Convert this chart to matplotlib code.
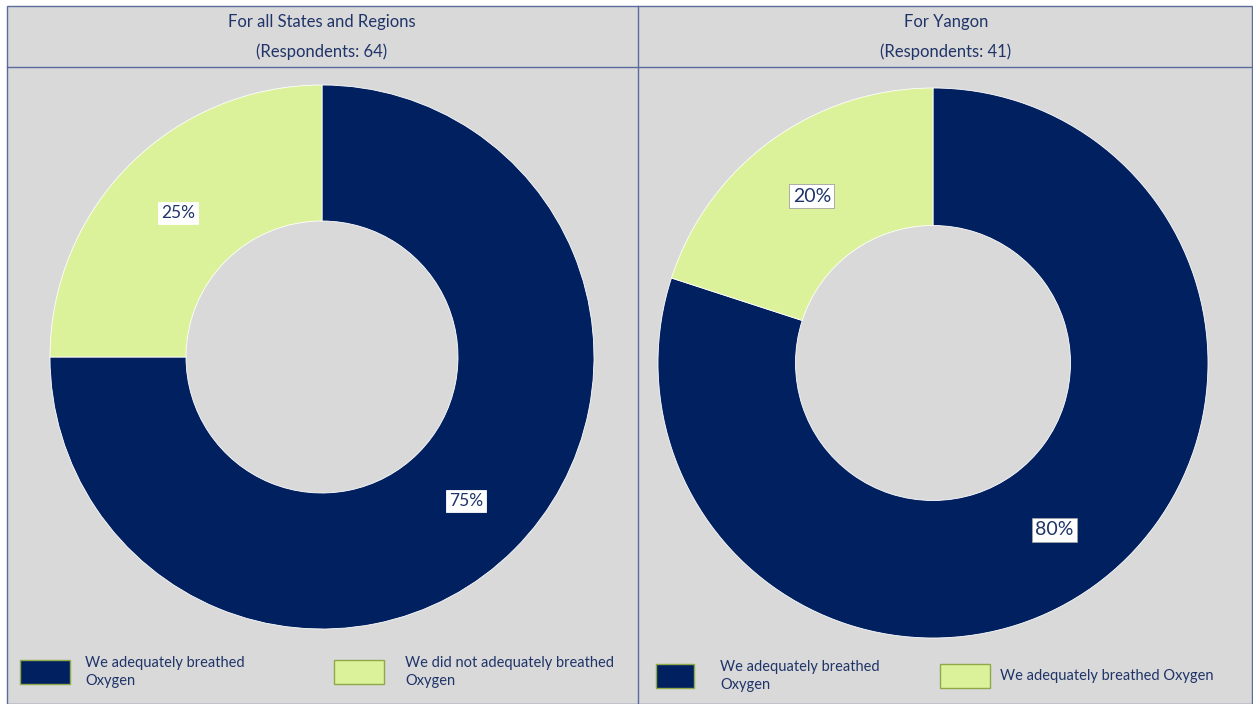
import matplotlib
matplotlib.use("Agg")
import matplotlib.pyplot as plt
from matplotlib.patches import Rectangle

plt.rcParams['font.family'] = ['Lato', 'DejaVu Sans']

# Data
panel_titles = ["For all States and Regions", "For Yangon"]
respondents = [64, 41]
left_values = [75, 25]
right_values = [80, 20]
left_legend = ["We adequately breathed\nOxygen", "We did not adequately breathed\nOxygen"]
right_legend = ["We adequately breathed\nOxygen", "We adequately breathed Oxygen"]

NAVY = "#002060"
GREEN = "#dcf29a"
BG = "#d9d9d9"
LINE = "#5a6c9c"
TXT = "#1f3468"

W, H = 1253, 704
fig = plt.figure(figsize=(W / 100, H / 100), dpi=100)
fig.patch.set_facecolor("white")

# overlay in pixel coordinates for the frame, titles and legends
ov = fig.add_axes([0, 0, 1, 1], zorder=0)
ov.set_xlim(0, W)
ov.set_ylim(H, 0)
ov.axis("off")

ov.add_patch(Rectangle((7, 6), W - 7 - 1, H - 6, facecolor=BG, edgecolor=LINE, lw=1.0))
ov.plot([7, W], [67, 67], color=LINE, lw=1.0)
ov.plot([638, 638], [6, H], color=LINE, lw=1.0)

centers = [322, 946]
for cx, t, n in zip(centers, panel_titles, respondents):
    ov.text(cx, 22, t, ha="center", va="center", fontsize=12, color=TXT)
    ov.text(cx, 52, f"(Respondents: {n})", ha="center", va="center", fontsize=12, color=TXT)


def legend_item(x, y, w, h, color, label, tx):
    ov.add_patch(Rectangle((x, y), w, h, facecolor=color, edgecolor="#8fa84a", lw=1.0))
    ov.text(tx, y + h / 2, label, ha="left", va="center", fontsize=10.5, color=TXT,
            linespacing=1.35)


legend_item(20, 660, 50, 24, NAVY, left_legend[0], 85)
legend_item(334, 660, 50, 24, GREEN, left_legend[1], 405)
legend_item(656, 664, 38, 24, NAVY, right_legend[0], 720)
legend_item(940, 664, 50, 24, GREEN, right_legend[1], 1000)


def donut(cx, cy, r, values, fsize, boxed_edge):
    ax = fig.add_axes([(cx - r) / W, 1 - (cy + r) / H, 2 * r / W, 2 * r / H], zorder=1)
    wedges, texts, autotexts = ax.pie(
        values, colors=[NAVY, GREEN], startangle=90, counterclock=False, radius=1,
        wedgeprops=dict(width=0.5, edgecolor="white", linewidth=0.6),
        autopct="%d%%", pctdistance=0.75)
    ax.set_xlim(-1, 1)
    ax.set_ylim(-1, 1)
    ax.set_aspect("equal")
    ax.axis("off")
    for t in autotexts:
        t.set_fontsize(fsize)
        t.set_color(TXT)
        t.set_bbox(dict(boxstyle="square,pad=0.18", facecolor="white",
                        edgecolor=boxed_edge, linewidth=0.6))
    return ax


donut(322, 357, 272, left_values, 12.5, "white")
donut(933, 363, 275, right_values, 14, "#a0a0a0")

fig.savefig("out.png", dpi=100, facecolor=fig.get_facecolor())
